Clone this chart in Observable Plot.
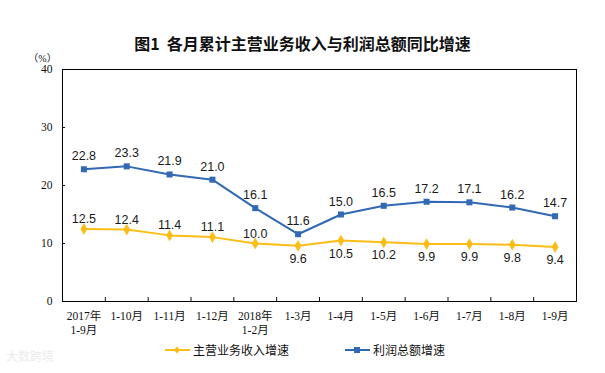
<!DOCTYPE html>
<html>
<head>
<meta charset="utf-8">
<script src="https://cdn.jsdelivr.net/npm/d3@7"></script>
<script src="https://cdn.jsdelivr.net/npm/@observablehq/plot@0.6"></script>
<style>
  html, body { margin: 0; padding: 0; background: #fff; }
  #wrap { position: relative; width: 605px; height: 373px; overflow: hidden; }
  #title { position: absolute; top: 33px; left: 0; width: 605px; line-height: 20px; text-align: center; white-space: pre;
    font-family: "Noto Sans CJK SC", sans-serif; font-weight: bold; font-size: 16px; color: #111; }
  #chart { padding-top: 46px; }
  #legend { position: absolute; top: 341px; left: 0; width: 605px; height: 18px;
    font-family: "Noto Sans CJK SC", sans-serif; font-size: 12px; color: #111; }
  .item { position: absolute; top: 0; height: 18px; line-height: 18px; display: flex; align-items: center; }
  .item svg { margin-right: 3px; }
  #wm { position: absolute; left: 6px; top: 347px; font-family: "Noto Sans CJK SC", sans-serif; font-size: 12px; color: #ececec; }
</style>
</head>
<body>
<div id="wrap">
  <div id="title">图1&nbsp;&nbsp;各月累计主营业务收入与利润总额同比增速</div>
  <div id="chart"></div>
  <div id="legend"></div>
  <div id="wm">大数跨境</div>
</div>
<script>
const months = ["2017年\n1-9月", "1-10月", "1-11月", "1-12月", "2018年\n1-2月", "1-3月", "1-4月", "1-5月", "1-6月", "1-7月", "1-8月", "1-9月"];
const revenue = [12.5, 12.4, 11.4, 11.1, 10.0, 9.6, 10.5, 10.2, 9.9, 9.9, 9.8, 9.4];
const profit = [22.8, 23.3, 21.9, 21.0, 16.1, 11.6, 15.0, 16.5, 17.2, 17.1, 16.2, 14.7];
const seriesNames = ["主营业务收入增速", "利润总额增速"];
const yTicks = [0, 10, 20, 30, 40];

const blue = "#3169b4";
const yellow = "#fbbd16";
const rows = months.map((m, i) => ({i, m, revenue: revenue[i], profit: profit[i]}));
const fmt = d3.format(".1f");
const boundaries = d3.range(months.length - 1).map(i => i + 0.5);

const labelFont = {fontFamily: "Liberation Sans, Arial, sans-serif", fontSize: 12.5, fill: "#1a1a1a"};

const chart = Plot.plot({
  width: 605,
  height: 295,
  marginTop: 23,
  marginBottom: 40,
  marginLeft: 62,
  marginRight: 29,
  style: {fontFamily: "Liberation Serif, 'Noto Sans CJK SC', serif", fontSize: "11.5px", color: "#111", background: "#fff"},
  x: {domain: [-0.5, months.length - 0.5], label: null},
  y: {domain: [0, 40], label: null},
  marks: [
    Plot.axisY({ticks: yTicks, tickSize: 0, tickPadding: 10, label: null}),
    Plot.axisY({ticks: yTicks, tickSize: -3, tickFormat: () => "", label: null}),
    Plot.axisX({ticks: d3.range(months.length), tickSize: 0, tickPadding: 8, tickFormat: i => months[i], lineHeight: 1.25, label: null}),
    Plot.axisX({ticks: boundaries, tickSize: -4, tickFormat: () => "", label: null}),
    Plot.frame({stroke: "#000", strokeWidth: 1}),
    Plot.text(["（%）"], {frameAnchor: "top-left", dx: -20, dy: -15, fontSize: 10, textAnchor: "middle"}),
    Plot.line(rows, {x: "i", y: "revenue", stroke: yellow, strokeWidth: 2}),
    Plot.dot(rows, {x: "i", y: "revenue", symbol: "diamond", r: 3.6, fill: yellow, stroke: "none"}),
    Plot.line(rows, {x: "i", y: "profit", stroke: blue, strokeWidth: 2}),
    Plot.dot(rows, {x: "i", y: "profit", symbol: "square", r: 3.4, fill: blue, stroke: "none"}),
    Plot.text(rows, {x: "i", y: "profit", text: d => fmt(d.profit), dy: -13, ...labelFont}),
    Plot.text(rows.filter(d => d.i < 5), {x: "i", y: "revenue", text: d => fmt(d.revenue), dy: -10, ...labelFont}),
    Plot.text(rows.filter(d => d.i >= 5), {x: "i", y: "revenue", text: d => fmt(d.revenue), dy: 13, ...labelFont})
  ]
});
document.getElementById("chart").appendChild(chart);

const legend = document.getElementById("legend");
const items = [
  {name: seriesNames[0], color: yellow, shape: "diamond", left: 165},
  {name: seriesNames[1], color: blue, shape: "square", left: 345}
];
for (const it of items) {
  const div = document.createElement("div");
  div.className = "item";
  div.style.left = it.left + "px";
  const sym = it.shape === "diamond"
    ? `<path d="M12,5.5 L15,9 L12,12.5 L9,9 Z" fill="${it.color}"/>`
    : `<rect x="9" y="6" width="6" height="6" fill="${it.color}"/>`;
  div.innerHTML = `<svg width="25" height="18"><line x1="0" x2="25" y1="9" y2="9" stroke="${it.color}" stroke-width="2"/>${sym}</svg><span>${it.name}</span>`;
  legend.appendChild(div);
}
</script>
</body>
</html>
